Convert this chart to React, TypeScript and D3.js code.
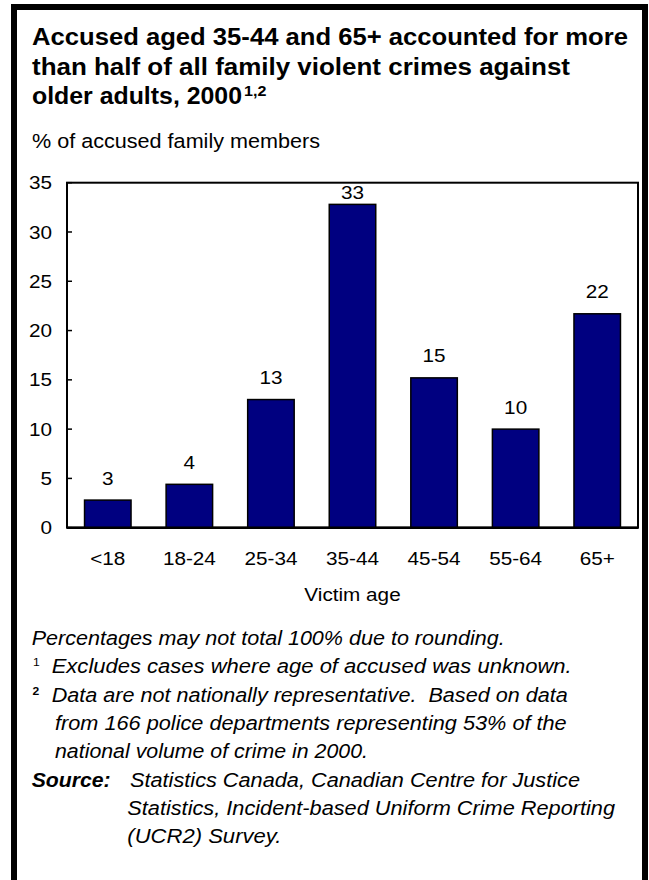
import React from "react";
import * as d3 from "d3";

const categories = ["<18", "18-24", "25-34", "35-44", "45-54", "55-64", "65+"];
const values = [2.8, 4.4, 13.0, 32.8, 15.2, 10.0, 21.7];
const valueLabels = ["3", "4", "13", "33", "15", "10", "22"];
const yTicks = [0, 5, 10, 15, 20, 25, 30, 35];

const titleLines = [
  "Accused aged 35-44 and 65+ accounted for more",
  "than half of all family violent crimes against",
  "older adults, 2000",
];
const subtitle = "% of accused family members";
const xTitle = "Victim age";

const FONT = "'Liberation Sans', Arial, Helvetica, sans-serif";

type TProps = {
  x: number;
  y: number;
  anchor?: "start" | "middle" | "end";
  size: number;
  weight?: string;
  italic?: boolean;
  len?: number;
  sx?: number;
  children: React.ReactNode;
};

function T({ x, y, anchor = "start", size, weight = "normal", italic = false, len, sx = 1.12, children }: TProps) {
  const common = {
    fontFamily: FONT,
    fontSize: size,
    fontWeight: weight as any,
    fontStyle: italic ? "italic" : "normal",
    fill: "#000",
    style: { whiteSpace: "pre" as const },
  };
  if (len) {
    return (
      <text x={x} y={y} textAnchor={anchor} textLength={len} lengthAdjust="spacingAndGlyphs" {...common}>
        {children}
      </text>
    );
  }
  return (
    <g transform={`translate(${x},${y}) scale(${sx},1)`}>
      <text x={0} y={0} textAnchor={anchor} {...common}>
        {children}
      </text>
    </g>
  );
}

export default function App() {
  const W = 649;
  const H = 880;
  const plotLeft = 67;
  const plotRight = 638;
  const plotTop = 182.7;
  const plotBottom = 527.7;

  const x = d3
    .scaleBand<string>()
    .domain(categories)
    .range([plotLeft, plotRight])
    .paddingInner(0.43)
    .paddingOuter(0.215);
  const y = d3.scaleLinear().domain([0, 35]).range([plotBottom, plotTop]);

  return (
    <div style={{ position: "absolute", left: 0, top: 0, width: W, height: H, background: "#fff" }}>
      <svg width={W} height={H} viewBox={`0 0 ${W} ${H}`} style={{ display: "block" }}>
        <rect x={0} y={0} width={W} height={H} fill="#fff" />
        {/* outer frame */}
        <rect x={14} y={7} width={631} height={H + 20} fill="none" stroke="#000" strokeWidth={6} />

        {/* title */}
        <T x={32} y={45} size={23} weight="bold" len={596}>{titleLines[0]}</T>
        <T x={32} y={74.5} size={23} weight="bold" len={538}>{titleLines[1]}</T>
        <T x={32} y={103.5} size={23} weight="bold" len={210}>{titleLines[2]}</T>
        <T x={244} y={96} size={14} weight="bold" sx={1.15}>1,2</T>

        {/* subtitle */}
        <T x={32} y={148} size={20.5} len={288}>{subtitle}</T>

        {/* plot frame */}
        <rect
          x={plotLeft}
          y={plotTop}
          width={plotRight - plotLeft}
          height={plotBottom - plotTop}
          fill="none"
          stroke="#000"
          strokeWidth={2}
        />

        {/* bars */}
        {categories.map((c, i) => (
          <rect
            key={c}
            x={x(c)}
            y={y(values[i])}
            width={x.bandwidth()}
            height={y(0) - y(values[i])}
            fill="#000080"
            stroke="#000"
            strokeWidth={1.5}
          />
        ))}

        {/* bottom axis line (thicker) */}
        <line x1={plotLeft} x2={plotRight} y1={plotBottom} y2={plotBottom} stroke="#000" strokeWidth={2.5} />

        {/* y ticks */}
        {yTicks.map((t) => (
          <g key={t}>
            <line x1={plotLeft} x2={plotLeft + 5} y1={y(t)} y2={y(t)} stroke="#000" strokeWidth={1.5} />
            <T x={52} y={y(t) + 6.6} size={18.5} anchor="end">{String(t)}</T>
          </g>
        ))}

        {/* value labels */}
        {categories.map((c, i) => (
          <T
            key={c}
            x={(x(c) as number) + x.bandwidth() / 2}
            y={Math.max(y(values[i]) - 15.5, plotTop + 16)}
            size={18.5}
            anchor="middle"
          >
            {valueLabels[i]}
          </T>
        ))}

        {/* category labels */}
        {categories.map((c) => (
          <T key={c} x={(x(c) as number) + x.bandwidth() / 2} y={565} size={18.5} anchor="middle">
            {c}
          </T>
        ))}

        <T x={(plotLeft + plotRight) / 2} y={601} size={18.5} anchor="middle">{xTitle}</T>

        {/* footnotes */}
        <T x={31.7} y={645} size={20} italic len={473}>Percentages may not total 100% due to rounding.</T>
        <T x={33} y={666} size={11} sx={1.1}>1</T>
        <T x={51.7} y={673.3} size={20} italic len={520}>Excludes cases where age of accused was unknown.</T>
        <T x={32.5} y={694.5} size={11} weight="bold" sx={1.1}>2</T>
        <T x={51.7} y={701.7} size={20} italic len={516}>{"Data are not nationally representative.  Based on data"}</T>
        <T x={55} y={730} size={20} italic len={511.7}>from 166 police departments representing 53% of the</T>
        <T x={55} y={758.3} size={20} italic len={313}>national volume of crime in 2000.</T>
        <T x={31.7} y={786.7} size={20} weight="bold" italic len={79}>Source:</T>
        <T x={130} y={786.7} size={20} italic len={450}>Statistics Canada, Canadian Centre for Justice</T>
        <T x={127.3} y={815} size={20} italic len={487.7}>Statistics, Incident-based Uniform Crime Reporting</T>
        <T x={127.3} y={843.3} size={20} italic len={154}>(UCR2) Survey.</T>
      </svg>
    </div>
  );
}
